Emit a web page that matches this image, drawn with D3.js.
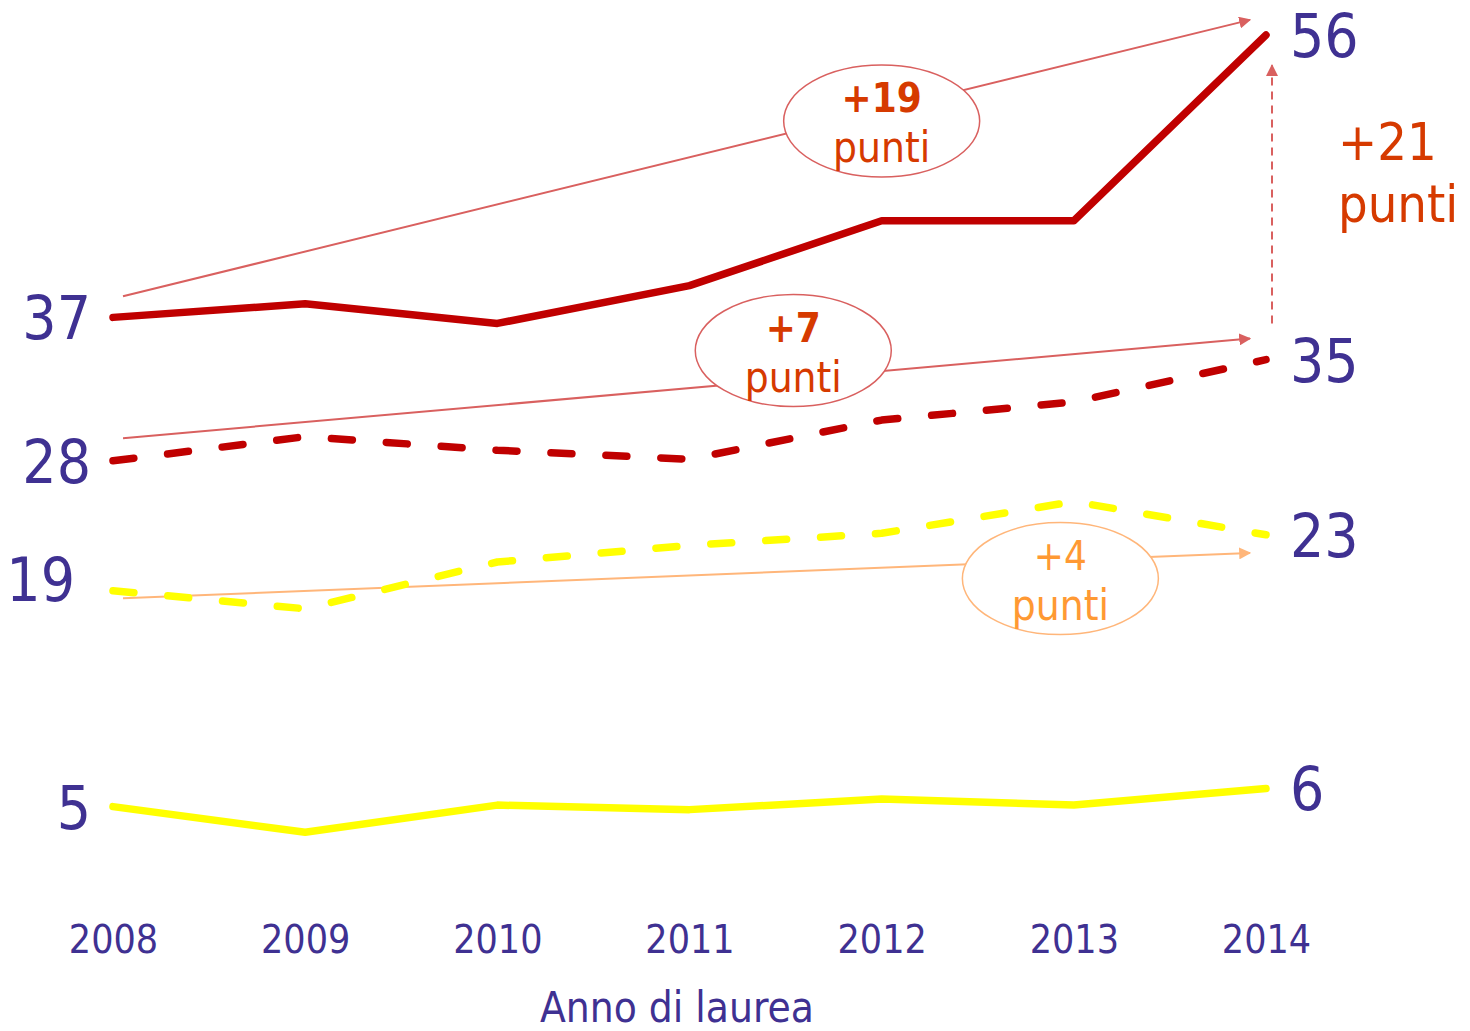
<!DOCTYPE html>
<html>
<head>
<meta charset="utf-8">
<script src="https://cdn.jsdelivr.net/npm/d3@7"></script>
<style>
  body { margin: 0; background: #fff; }
  svg text { font-family: "DejaVu Sans Condensed", "DejaVu Sans", sans-serif; }
</style>
</head>
<body>
<svg id="chart" width="1470" height="1031"></svg>
<script>
// years on the x axis
const years = [2008, 2009, 2010, 2011, 2012, 2013, 2014];

// the four series
const redSolid    = [37.3, 38.2, 36.9, 39.4, 43.7, 43.7, 56.0];
const redDashed   = [27.8, 29.4, 28.5, 27.9, 30.5, 31.7, 34.5];
const yellowDash  = [19.2, 18.0, 21.1, 22.2, 23.0, 25.1, 22.9];
const yellowSolid = [4.9, 3.2, 5.0, 4.7, 5.4, 5.0, 6.1];

// labels at the ends of each line
const startLabels = ["37", "28", "19", "5"];
const endLabels   = ["56", "35", "23", "6"];

// trend arrows: start value (2008), end value (2014), label
const trendText   = ["+19", "+7", "+4"];
const trendStart  = [38.7, 29.3, 18.7];
const trendEnd    = [57.0, 35.9, 21.7];
const bubbleYear  = [2012.0, 2011.54, 2012.93];
const bubbleValue = [50.3, 35.1, 20.0];

// vertical gap arrow between the two red lines in 2014
const gapFrom = 36.9, gapTo = 54.0, gapText = "+21";

const xTitle = "Anno di laurea";

const svg = d3.select("#chart");
const x = d3.scaleLinear().domain([2008, 2014]).range([113, 1266]);
const y = d3.scaleLinear().domain([0, 56]).range([880.6, 35]);

const purple = "#3F3192";
const darkRed = "#C00000";
const yellow = "#FFFF00";
const pinkLine = "#D9605F";
const orangeLine = "#FFB67A";
const redText = "#D63A00";
const orangeText = "#FF9933";

// arrow heads
const defs = svg.append("defs");
function marker(id, color) {
  defs.append("marker")
    .attr("id", id)
    .attr("viewBox", "0 0 10 10")
    .attr("refX", 9).attr("refY", 5)
    .attr("markerWidth", 6).attr("markerHeight", 6)
    .attr("markerUnits", "strokeWidth")
    .attr("orient", "auto")
    .append("path")
    .attr("d", "M0,0 L10,5 L0,10 Z")
    .attr("fill", color);
}
marker("arrRed", pinkLine);
marker("arrOrange", orangeLine);

const line = d3.line()
  .x((d, i) => x(years[i]))
  .y(d => y(d));

// trend arrow lines (drawn first, bubbles sit on top of them)
const trendColor = [pinkLine, pinkLine, orangeLine];
const trendMarker = ["arrRed", "arrRed", "arrOrange"];
trendText.forEach((t, i) => {
  svg.append("line")
    .attr("x1", x(2008) + 10)
    .attr("y1", y(trendStart[i]))
    .attr("x2", x(2014) - 16)
    .attr("y2", y(trendEnd[i]))
    .attr("stroke", trendColor[i])
    .attr("stroke-width", 2)
    .attr("marker-end", `url(#${trendMarker[i]})`);
});

// series lines
const series = [
  { values: redSolid, color: darkRed, dash: null },
  { values: redDashed, color: darkRed, dash: "21,34" },
  { values: yellowDash, color: yellow, dash: "21,34" },
  { values: yellowSolid, color: yellow, dash: null }
];

svg.selectAll("path.series")
  .data(series)
  .enter().append("path")
  .attr("class", "series")
  .attr("d", d => line(d.values))
  .attr("fill", "none")
  .attr("stroke", d => d.color)
  .attr("stroke-width", 7.5)
  .attr("stroke-linecap", "round")
  .attr("stroke-linejoin", "round")
  .attr("stroke-dasharray", d => d.dash);

// bubbles with the point differences
trendText.forEach((t, i) => {
  const cx = x(bubbleYear[i]), cy = y(bubbleValue[i]);
  svg.append("ellipse")
    .attr("cx", cx).attr("cy", cy)
    .attr("rx", 98).attr("ry", 56)
    .attr("fill", "#fff")
    .attr("stroke", trendColor[i])
    .attr("stroke-width", 1.5);
  const col = i === 2 ? orangeText : redText;
  svg.append("text")
    .attr("x", cx).attr("y", cy - 9)
    .attr("text-anchor", "middle")
    .attr("font-size", 40)
    .attr("font-weight", i === 2 ? "normal" : "bold")
    .attr("fill", col)
    .text(t);
  svg.append("text")
    .attr("x", cx).attr("y", cy + 41)
    .attr("text-anchor", "middle")
    .attr("font-size", 42)
    .attr("fill", col)
    .text("punti");
});

// vertical dashed arrow
svg.append("line")
  .attr("x1", x(2014) + 6).attr("x2", x(2014) + 6)
  .attr("y1", y(gapFrom)).attr("y2", y(gapTo))
  .attr("stroke", pinkLine)
  .attr("stroke-width", 2)
  .attr("stroke-dasharray", "8,6")
  .attr("marker-end", "url(#arrRed)");

svg.append("text")
  .attr("x", 1338).attr("y", 160)
  .attr("font-size", 52)
  .attr("fill", redText)
  .text(gapText);
svg.append("text")
  .attr("x", 1338).attr("y", 222)
  .attr("font-size", 52)
  .attr("fill", redText)
  .text("punti");

// value labels at both ends
const startDx = [-22, -22, -38, -22];
const startDy = [22, 22, 10, 22];
series.forEach((s, i) => {
  svg.append("text")
    .attr("x", x(2008) + startDx[i])
    .attr("y", y(s.values[0]) + startDy[i])
    .attr("text-anchor", "end")
    .attr("font-size", 60)
    .attr("fill", purple)
    .text(startLabels[i]);
  svg.append("text")
    .attr("x", x(2014) + 24)
    .attr("y", y(s.values[6]) + 22)
    .attr("font-size", 60)
    .attr("fill", purple)
    .text(endLabels[i]);
});

// x axis (no line, only labels)
const xAxis = d3.axisBottom(x)
  .tickValues(years)
  .tickFormat(d3.format("d"))
  .tickSize(0)
  .tickPadding(0);

const gx = svg.append("g")
  .attr("transform", "translate(0,922)")
  .call(xAxis);
gx.select(".domain").remove();
gx.selectAll("text")
  .attr("dy", "0.8em")
  .attr("font-size", 39)
  .attr("font-family", "'DejaVu Sans Condensed', sans-serif")
  .attr("fill", purple);

svg.append("text")
  .attr("x", 677).attr("y", 1022)
  .attr("text-anchor", "middle")
  .attr("font-size", 42)
  .attr("fill", purple)
  .text(xTitle);
</script>
</body>
</html>
